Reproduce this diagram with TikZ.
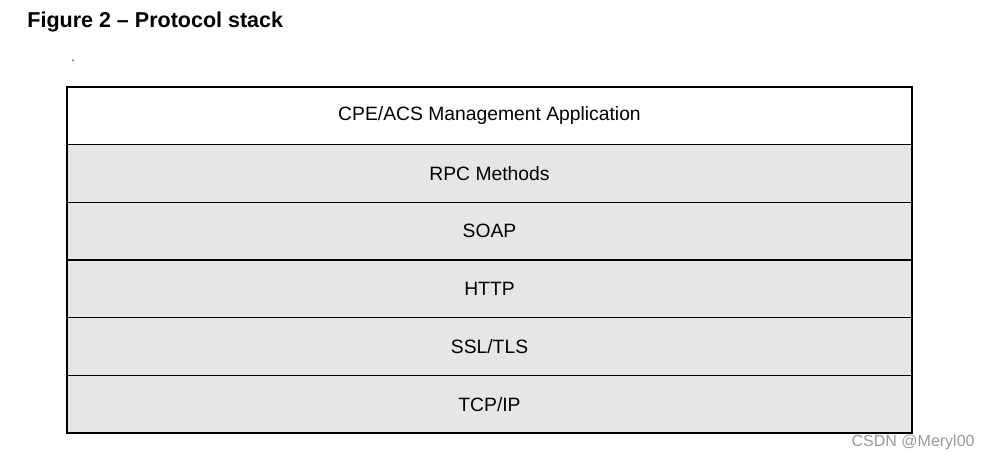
\documentclass[tikz,border=0pt]{standalone}
\usepackage{fontspec}
\setmainfont{Liberation Sans}
\usetikzlibrary{
  positioning,
}
\definecolor{layergray}{RGB}{230,230,230}
\tikzset{
  layer/.style={draw, line width=0.7pt, fill=layergray, minimum width=422.5pt,
    minimum height=28.83pt, inner sep=0pt, outer sep=0pt,
    font=\fontsize{9.65}{11}\selectfont},
}

\begin{document}
\begin{tikzpicture}[x=0.5pt,y=-0.5pt]
    \useasboundingbox (0,0) rectangle (989,459);
    \node [anchor=west, inner sep=0pt, font=\bfseries\fontsize{10.75}{12}\selectfont] (title) at (27,22) {Figure 2 – Protocol stack};
    \node [anchor=base, inner sep=0pt, font=\fontsize{6}{7}\selectfont] (dot) at (73,62) {.};
    \node [layer, fill=white, anchor=north west] (app) at (67,87) {CPE/ACS Management Application};
    \node [layer, below=0pt of app] (rpc) {RPC Methods};
    \node [layer, below=0pt of rpc] (soap) {SOAP};
    \node [layer, below=0pt of soap] (http) {HTTP};
    \node [layer, below=0pt of http] (tls) {SSL/TLS};
    \node [layer, below=0pt of tls] (tcp) {TCP/IP};
    \node [anchor=base east, inner sep=0pt, text=gray!80, font=\fontsize{8}{9}\selectfont] (mark) at (975,446) {CSDN @Meryl00};
  \end{tikzpicture}
\end{document}
